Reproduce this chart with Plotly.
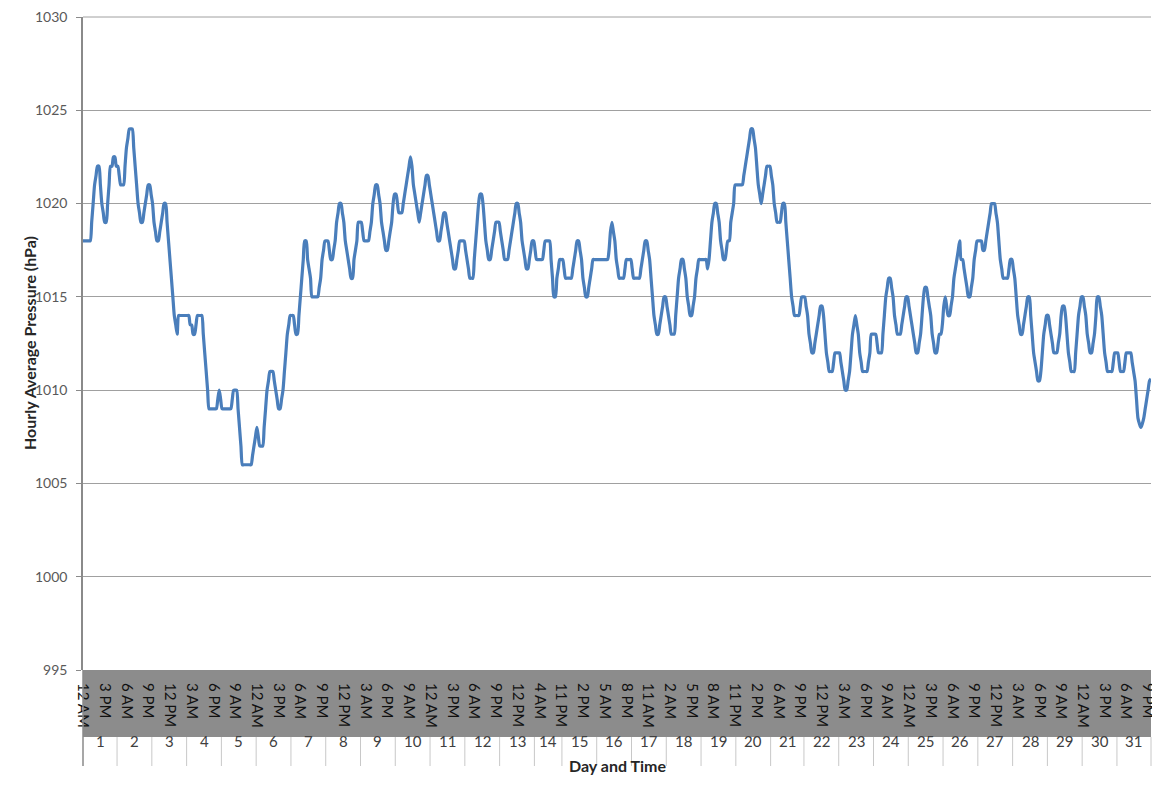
import plotly.graph_objects as go

# ---- data: hourly average pressure (hPa), one list per day ----
day_numbers = list(range(1, 32))

# hours present for each day (a few hours are missing on days 14 and 21)
day_hours = {d: list(range(24)) for d in day_numbers}
day_hours[14] = [0, 1, 2] + list(range(4, 18)) + [22, 23]
day_hours[21] = [0, 1, 2] + list(range(4, 24))

d01 = [1018,1018,1018,1018,1018,1018,1019,1020,1021,1021.5,1022,1022,1021,1020,1019.5,1019,1019,1020,1021,1022,1022,1022.5,1022.5,1022]
d02 = [1022,1021.5,1021,1021,1021,1022,1023,1023.5,1024,1024,1024,1023,1022,1021,1020,1019.5,1019,1019,1019.5,1020,1020.5,1021,1021,1020.5]
d03 = [1020,1019,1018.5,1018,1018,1018.5,1019,1019.5,1020,1020,1019,1018,1017,1016,1015,1014,1013.5,1013,1014,1014,1014,1014,1014,1014]
d04 = [1014,1014,1013.5,1013.5,1013,1013,1013.5,1014,1014,1014,1014,1013,1012,1011,1010,1009,1009,1009,1009,1009,1009,1009.5,1010,1009.5]
d05 = [1009,1009,1009,1009,1009,1009,1009,1009.5,1010,1010,1010,1009,1008,1007,1006,1006,1006,1006,1006,1006,1006,1006.5,1007,1007.5]
d06 = [1008,1007.5,1007,1007,1007,1008,1009,1010,1010.5,1011,1011,1011,1010.5,1010,1009.5,1009,1009,1009.5,1010,1011,1012,1013,1013.5,1014]
d07 = [1014,1014,1013.5,1013,1013,1014,1015,1016,1017,1018,1018,1017,1016.5,1016,1015,1015,1015,1015,1015,1015.5,1016,1017,1017.5,1018]
d08 = [1018,1018,1017.5,1017,1017,1017.5,1018,1019,1019.5,1020,1020,1019.5,1019,1018,1017.5,1017,1016.5,1016,1016,1017,1017.5,1018,1019,1019]
d09 = [1019,1018.5,1018,1018,1018,1018,1018.5,1019,1020,1020.5,1021,1021,1020.5,1020,1019,1018.5,1018,1017.5,1017.5,1018,1018.5,1019,1020,1020.5]
d10 = [1020.5,1020,1019.5,1019.5,1019.5,1020,1020.5,1021,1021.5,1022,1022.5,1022,1021,1020.5,1020,1019.5,1019,1019.5,1020,1020.5,1021,1021.5,1021.5,1021]
d11 = [1020.5,1020,1019.5,1019,1018.5,1018,1018,1018.5,1019,1019.5,1019.5,1019,1018.5,1018,1017.5,1017,1016.5,1016.5,1017,1017.5,1018,1018,1018,1018]
d12 = [1017.5,1017,1016.5,1016,1016,1016,1017,1018,1019,1020,1020.5,1020.5,1020,1019,1018,1017.5,1017,1017,1017.5,1018,1018.5,1019,1019,1019]
d13 = [1018.5,1018,1017.5,1017,1017,1017,1017.5,1018,1018.5,1019,1019.5,1020,1020,1019.5,1019,1018,1017.5,1017,1016.5,1016.5,1017,1017.5,1018,1018]
d14 = [1017.5,1017,1017,1017,1017,1017,1017.5,1018,1018,1018,1018,1017,1016,1015,1015,1016,1016.5,1017,1017]
d15 = [1017,1016.5,1016,1016,1016,1016,1016,1016.5,1017,1017.5,1018,1018,1017.5,1017,1016,1015.5,1015,1015,1015.5,1016,1016.5,1017,1017,1017]
d16 = [1017,1017,1017,1017,1017,1017,1017,1017,1017.5,1018.5,1019,1018.5,1018,1017,1016.5,1016,1016,1016,1016,1016.5,1017,1017,1017,1017]
d17 = [1016.5,1016,1016,1016,1016,1016,1016.5,1017,1017.5,1018,1018,1017.5,1017,1016,1015,1014,1013.5,1013,1013,1013.5,1014,1014.5,1015,1015]
d18 = [1014.5,1014,1013.5,1013,1013,1013,1014,1015,1016,1016.5,1017,1017,1016.5,1016,1015,1014.5,1014,1014,1014.5,1015,1016,1016.5,1017,1017]
d19 = [1017,1017,1017,1017,1016.5,1017,1018,1019,1019.5,1020,1020,1019.5,1019,1018,1017.5,1017,1017,1017.5,1018,1018,1019,1019.5,1020,1021]
d20 = [1021,1021,1021,1021,1021,1021.5,1022,1022.5,1023,1023.5,1024,1024,1023.5,1023,1022,1021,1020.5,1020,1020.5,1021,1021.5,1022,1022,1022]
d21 = [1021.5,1021,1020,1019.5,1019,1019,1019,1019.5,1020,1020,1019,1018,1017,1016,1015,1014.5,1014,1014,1014,1014,1014.5,1015,1015]
d22 = [1015,1014.5,1014,1013,1012.5,1012,1012,1012.5,1013,1013.5,1014,1014.5,1014.5,1014,1013,1012,1011.5,1011,1011,1011,1011.5,1012,1012,1012]
d23 = [1012,1011.5,1011,1010.5,1010,1010,1010.5,1011,1012,1013,1013.5,1014,1013.5,1013,1012,1011.5,1011,1011,1011,1011,1011.5,1012,1013,1013]
d24 = [1013,1013,1012.5,1012,1012,1012,1013,1014,1015,1015.5,1016,1016,1015.5,1015,1014,1013.5,1013,1013,1013,1013.5,1014,1014.5,1015,1015]
d25 = [1014.5,1014,1013.5,1013,1012.5,1012,1012,1012.5,1013,1014,1015,1015.5,1015.5,1015,1014.5,1014,1013,1012.5,1012,1012,1012.5,1013,1013,1013.5]
d26 = [1014.5,1015,1014.5,1014,1014,1014.5,1015,1016,1016.5,1017,1017.5,1018,1017,1017,1016.5,1016,1015.5,1015,1015,1015.5,1016,1017,1017.5,1018]
d27 = [1018,1018,1018,1017.5,1017.5,1018,1018.5,1019,1019.5,1020,1020,1020,1019.5,1019,1018,1017,1016.5,1016,1016,1016,1016,1016.5,1017,1017]
d28 = [1016.5,1016,1015,1014,1013.5,1013,1013,1013.5,1014,1014.5,1015,1015,1014,1013,1012,1011.5,1011,1010.5,1010.5,1011,1012,1013,1013.5,1014]
d29 = [1014,1013.5,1013,1012.5,1012,1012,1012,1012.5,1013,1014,1014.5,1014.5,1014,1013,1012,1011.5,1011,1011,1011,1012,1013,1014,1014.5,1015]
d30 = [1015,1014.5,1014,1013,1012.5,1012,1012,1012.5,1013,1014,1015,1015,1014.5,1014,1013,1012,1011.5,1011,1011,1011,1011,1011.5,1012,1012]
d31 = [1012,1011.5,1011,1011,1011,1011.5,1012,1012,1012,1012,1011.5,1011,1010.5,1009.5,1008.5,1008.2,1008,1008.2,1008.5,1009,1009.5,1010,1010.5,1010.6]

daily_values = [d01,d02,d03,d04,d05,d06,d07,d08,d09,d10,d11,d12,d13,d14,d15,d16,
                d17,d18,d19,d20,d21,d22,d23,d24,d25,d26,d27,d28,d29,d30,d31]

y_range = [995, 1030]
y_dtick = 5
label_every = 15

# ---- build series ----
pressure = []
hour_of_point = []
day_start = []
for d, vals in zip(day_numbers, daily_values):
    day_start.append(len(pressure))
    pressure.extend(vals)
    hour_of_point.extend(day_hours[d][:len(vals)])
n = len(pressure)
idx = list(range(n))


def hour_label(h):
    return f"{(h % 12) or 12} {'AM' if h < 12 else 'PM'}"


tickvals = idx[::label_every]
ticktext = [hour_label(hour_of_point[i]) for i in tickvals]

FONT = "Lato, 'Open Sans', sans-serif"
LINE = "#4a7ebb"
GRID = "#a0a0a0"
BAND = "#8c8c8c"

fig = go.Figure()
fig.add_trace(go.Scatter(x=idx, y=pressure, mode="lines",
                         line=dict(color=LINE, width=3.2, shape="spline", smoothing=0.7),
                         hoverinfo="y", showlegend=False))

# the page adds an 8px body margin, so the figure is 8px smaller than the window
W, H = 1152, 781
M_L, M_R, M_T, M_B = 75, 9, 9, 119
H_PLOT = H - M_T - M_B
band_h = 67 / H_PLOT
row_h = 29 / H_PLOT

shapes = [
    dict(type="rect", xref="paper", yref="paper", x0=0, x1=1, y0=-band_h, y1=0,
         fillcolor=BAND, line=dict(width=0), layer="below"),
    dict(type="line", xref="paper", yref="paper", x0=0, x1=1, y0=1, y1=1,
         line=dict(color=GRID, width=1), layer="below"),
    dict(type="line", xref="paper", yref="paper", x0=0, x1=0, y0=-band_h - row_h, y1=0,
         line=dict(color="#8a8a8a", width=1.5)),
    dict(type="line", xref="paper", yref="paper", x0=1, x1=1, y0=-band_h - row_h, y1=-band_h,
         line=dict(color="#c8c8c8", width=1)),
]
annotations = []
ends = day_start[1:] + [n - 1 + 0.5]
for d, s, e in zip(day_numbers, day_start, ends):
    if s > 0:
        shapes.append(dict(type="line", xref="x", yref="paper", x0=s - 0.5, x1=s - 0.5,
                           y0=-band_h - row_h, y1=-band_h,
                           line=dict(color="#c8c8c8", width=1)))
    mid = (max(s - 0.5, 0) + min(e - 0.5, n - 1)) / 2
    annotations.append(dict(x=mid, y=-band_h - row_h / 2, xref="x", yref="paper",
                            text=str(d), showarrow=False,
                            font=dict(family=FONT, size=15, color="#404040")))

annotations.append(dict(x=0.5, y=-(775 - 668) / H_PLOT, xref="paper", yref="paper",
                        text="<b>Day and Time</b>", showarrow=False,
                        font=dict(family=FONT, size=16, color="#262626")))
annotations.append(dict(x=0, y=0.5, xref="paper", yref="paper", xshift=-65,
                        text="<b>Hourly Average Pressure (hPa)</b>", textangle=-90,
                        showarrow=False,
                        font=dict(family=FONT, size=16, color="#262626")))

fig.update_layout(
    width=W, height=H,
    margin=dict(l=M_L, r=M_R, t=M_T, b=M_B, autoexpand=False),
    paper_bgcolor="white", plot_bgcolor="white",
    font=dict(family=FONT, color="#404040"),
    shapes=shapes, annotations=annotations,
    xaxis=dict(range=[0, n - 1], tickmode="array", tickvals=tickvals, ticktext=ticktext,
               tickangle=90, tickfont=dict(family=FONT, size=15, color="#111111"),
               showgrid=False, zeroline=False, ticks="outside", ticklen=9,
               tickcolor=BAND, showline=False, automargin=False,
               ticklabeloverflow="allow"),
    yaxis=dict(range=y_range, dtick=y_dtick, showgrid=True, gridcolor=GRID, gridwidth=1,
               zeroline=False, showline=True, linecolor="#8a8a8a", linewidth=1.5,
               ticks="outside", ticklen=5, tickcolor="#8a8a8a", automargin=False,
               ticklabeloverflow="allow", ticklabelstandoff=6,
               tickfont=dict(family=FONT, size=14, color="#595959")),
)

fig.write_html("out.html")
